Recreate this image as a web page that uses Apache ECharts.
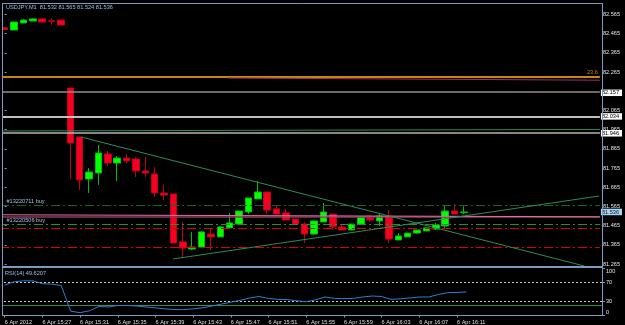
<!DOCTYPE html>
<html><head><meta charset="utf-8">
<script src="https://cdn.jsdelivr.net/npm/echarts@6/dist/echarts.min.js"></script>
<style>html,body{margin:0;padding:0;background:#000;}#c{width:625px;height:325px;}</style>
</head><body><div id="c"></div>
<script>
// ---- data ----
const minutes = ['15:23','15:24','15:25','15:26','15:27','15:28','15:29','15:30','15:31','15:32',
  '15:33','15:34','15:35','15:36','15:37','15:38','15:39','15:40','15:41','15:42',
  '15:43','15:44','15:45','15:46','15:47','15:48','15:49','15:50','15:51','15:52',
  '15:53','15:54','15:55','15:56','15:57','15:58','15:59','16:00','16:01','16:02',
  '16:03','16:04','16:05','16:06','16:07','16:08','16:09','16:10','16:11','16:12'];
const open  = [82.496,82.484,82.521,82.531,82.542,82.532,82.536,82.182,81.927,81.708,
  81.739,81.838,81.791,81.817,81.812,81.750,81.734,81.635,81.630,81.380,
  81.343,81.353,81.421,81.406,81.453,81.473,81.536,81.604,81.640,81.552,
  81.531,81.499,81.473,81.421,81.484,81.525,81.458,81.442,81.473,81.505,
  81.489,81.515,81.390,81.406,81.426,81.437,81.447,81.463,81.541,81.532];
const close = [82.486,82.526,82.536,82.542,82.526,82.530,82.510,81.895,81.703,81.744,
  81.843,81.791,81.817,81.802,81.750,81.739,81.635,81.624,81.374,81.348,
  81.353,81.432,81.406,81.458,81.479,81.541,81.609,81.640,81.546,81.525,
  81.494,81.473,81.421,81.489,81.536,81.458,81.442,81.473,81.510,81.494,
  81.515,81.395,81.411,81.426,81.442,81.453,81.468,81.541,81.525,81.536];
const low   = [82.484,82.483,82.521,82.531,82.521,82.510,82.510,81.708,81.651,81.635,
  81.677,81.776,81.697,81.791,81.718,81.718,81.614,81.598,81.372,81.296,
  81.338,81.353,81.338,81.406,81.447,81.470,81.525,81.604,81.525,81.525,
  81.494,81.473,81.374,81.416,81.484,81.442,81.442,81.442,81.473,81.484,
  81.463,81.374,81.390,81.406,81.421,81.437,81.442,81.453,81.525,81.524];
const high  = [82.499,82.527,82.542,82.547,82.542,82.547,82.536,82.182,81.927,81.765,
  81.885,81.854,81.828,81.838,81.822,81.822,81.770,81.677,81.630,81.484,
  81.432,81.437,81.447,81.458,81.531,81.541,81.609,81.697,81.640,81.567,
  81.552,81.499,81.484,81.489,81.583,81.525,81.468,81.473,81.510,81.520,
  81.531,81.546,81.426,81.426,81.442,81.453,81.479,81.572,81.578,81.565];
const rsi = [64,71,73,73,67,66,63,9,6,10,
  19,18,21,21,20,18,16,14,12.5,12.5,
  14,16,20,24,28,32,37,40,36,34,
  33.5,31,29,33,39,36,35.5,36,39,41,
  40,34,35,37,39,39,44,48,48.5,49.62];
const timeLabels = ['6 Apr 2012','6 Apr 15:27','6 Apr 15:31','6 Apr 15:35','6 Apr 15:39','6 Apr 15:43',
  '6 Apr 15:47','6 Apr 15:51','6 Apr 15:55','6 Apr 15:59','6 Apr 16:03','6 Apr 16:07','6 Apr 16:11'];
const priceTicks = [82.565,82.465,82.365,82.265,82.065,81.965,81.865,81.765,81.665,81.565,81.465,81.365,81.265];
const markedPrices = [82.157,82.034,81.946];
const lastPrice = [81.536];
const rsiTicks = [70,30];
const chartTitle = 'USDJPY,M1  81.532 81.565 81.524 81.536';
const rsiTitle = 'RSI(14) 49.6207';
const fibLevel = 82.2367, fibLabel = '23.6';
const greyLevels = [82.157, 81.946];
const whiteLevel = 82.034;
const mauveLevel = 81.5139;
const orderLevels = [81.570, 81.472];
const orderLabels = ['#13220711 buy', '#13220506 buy'];
const stopLevels = [81.454, 81.3467];
const trendDown = [[8.14, 81.9266], [61.84, 81.2544]];
const trendUp = [[17.97, 81.291], [63.42, 81.6192]];
const trendFlat = [[-0.5, 81.958], [63.5, 81.966]];
const trendPurple = [[23.78, 82.2341], [63.5, 82.2226]];
const trendPink = [[-0.5, 81.5213], [63.5, 81.5108]];
const rsiGreenLevel = 21.5;

// ---- layout ----
const SLOTS = 64;
const cats = minutes.concat(Array.from({length: SLOTS - minutes.length}, (_, i) => 'x' + i));
const yMin = 81.2518, yMax = 82.6197;
const FONT = 'Liberation Sans';
const FS = 5.6;
const frame = '#7b9cc0';
const gridL = -1.7, gridW = 604.7;

const showIdx = (i) => i % 4 === 0 && i / 4 < timeLabels.length;

const chart = echarts.init(document.getElementById('c'), null, {renderer: 'canvas'});
chart.setOption({
  backgroundColor: '#000',
  animation: false,
  textStyle: {fontFamily: FONT},
  title: [
    {text: chartTitle, left: 6, top: 4.6, padding: 0,
     textStyle: {color: '#9cc0e4', fontSize: FS, fontWeight: 'normal', fontFamily: FONT}},
    {text: rsiTitle, left: 5, top: 270.3, padding: 0,
     textStyle: {color: '#9cc0e4', fontSize: FS, fontWeight: 'normal', fontFamily: FONT}}
  ],
  grid: [
    {left: gridL, top: 4, width: gridW, height: 262.5},
    {left: gridL, top: 268, width: gridW, height: 47.5}
  ],
  xAxis: [
    {type: 'category', gridIndex: 0, data: cats, boundaryGap: true, show: false},
    {type: 'value', gridIndex: 0, min: -0.5, max: SLOTS - 0.5, show: false},
    {type: 'category', gridIndex: 1, data: cats, boundaryGap: true, position: 'bottom',
     axisLine: {show: false, onZero: false},
     axisTick: {show: true, alignWithLabel: true, interval: showIdx, length: 2, lineStyle: {color: frame}},
     axisLabel: {interval: showIdx, formatter: (v, i) => timeLabels[i / 4] || '', align: 'left',
       color: '#d8dee6', fontSize: FS, fontFamily: FONT, margin: 3.5},
     splitLine: {show: false}}
  ],
  yAxis: [
    {type: 'value', gridIndex: 0, position: 'right', min: yMin, max: yMax,
     axisLine: {show: false}, splitLine: {show: false},
     axisTick: {show: true, customValues: priceTicks, length: 2, lineStyle: {color: frame}},
     axisLabel: {customValues: priceTicks, formatter: v => v.toFixed(3), color: '#dfe6ee',
       fontSize: FS, fontFamily: FONT, margin: 3}},
    {type: 'value', gridIndex: 0, position: 'right', min: yMin, max: yMax,
     axisLine: {show: false}, splitLine: {show: false}, axisTick: {show: false},
     axisLabel: {customValues: markedPrices, formatter: v => v.toFixed(3), color: '#000',
       backgroundColor: '#ffffff', padding: [0.5, 3, 0, 1], fontSize: FS, fontFamily: FONT, margin: 1}},
    {type: 'value', gridIndex: 0, position: 'right', min: yMin, max: yMax,
     axisLine: {show: false}, splitLine: {show: false}, axisTick: {show: false},
     axisLabel: {customValues: lastPrice, formatter: v => v.toFixed(3), color: '#0a1a2a',
       backgroundColor: '#a6d2f2', padding: [0.5, 3, 0, 1], fontSize: FS, fontFamily: FONT, margin: 1}},
    {type: 'value', gridIndex: 1, position: 'right', min: 0, max: 100,
     axisLine: {show: false}, splitLine: {show: false},
     axisTick: {show: true, customValues: [100, 70, 30, 0], length: 2, lineStyle: {color: frame}},
     axisLabel: {customValues: rsiTicks, color: '#dfe6ee', fontSize: FS, fontFamily: FONT, margin: 3}},
    {type: 'value', gridIndex: 1, position: 'right', min: 0, max: 100,
     axisLine: {show: false}, splitLine: {show: false}, axisTick: {show: false},
     axisLabel: {customValues: [100], verticalAlign: 'top', color: '#dfe6ee', fontSize: FS, fontFamily: FONT, margin: 3}},
    {type: 'value', gridIndex: 1, position: 'right', min: 0, max: 100,
     axisLine: {show: false}, splitLine: {show: false}, axisTick: {show: false},
     axisLabel: {customValues: [0], verticalAlign: 'bottom', color: '#dfe6ee', fontSize: FS, fontFamily: FONT, margin: 3}}
  ],
  series: [
    {type: 'candlestick', xAxisIndex: 0, yAxisIndex: 0, z: 2, barWidth: 7,
     data: open.map((o, i) => [o, close[i], low[i], high[i]]),
     itemStyle: {color: '#00ff00', color0: '#f5001f', borderColor: '#00c000', borderColor0: '#c0001a', borderWidth: 1}},
    {type: 'line', xAxisIndex: 1, yAxisIndex: 0, z: 5, silent: true, symbol: 'none',
     data: trendFlat, lineStyle: {color: '#2e8b57', width: 1},
     markLine: {symbol: 'none', silent: true, animation: false, label: {show: false},
       data: [
         {yAxis: fibLevel, lineStyle: {color: '#c8860b', width: 2, type: 'solid'},
          label: {show: true, position: 'insideEndTop', formatter: fibLabel, color: '#c8860b',
            fontSize: FS, fontFamily: FONT, distance: [2, 1]}},
         {yAxis: greyLevels[0], lineStyle: {color: '#8e8e8e', width: 1.5, type: 'solid'}},
         {yAxis: whiteLevel, lineStyle: {color: '#ffffff', width: 1.5, type: 'solid'}},
         {yAxis: greyLevels[1], lineStyle: {color: '#b4b4b4', width: 1.5, type: 'solid'}},
         {yAxis: mauveLevel, lineStyle: {color: '#8a3a5a', width: 1.5, type: 'solid'}},
         {yAxis: orderLevels[0], lineStyle: {color: '#1c641c', width: 1, type: [9, 3, 2, 3]},
          label: {show: true, position: 'insideStartTop', formatter: orderLabels[0], color: '#9cc0e4',
            fontSize: FS, fontFamily: FONT, distance: [6.5, 1]}},
         {yAxis: orderLevels[1], lineStyle: {color: '#2a8c2a', width: 1, type: [9, 3, 2, 3]},
          label: {show: true, position: 'insideStartTop', formatter: orderLabels[1], color: '#9cc0e4',
            fontSize: FS, fontFamily: FONT, distance: [6.5, 1]}},
         {yAxis: stopLevels[0], lineStyle: {color: '#e00000', width: 1, type: [9, 3, 2, 3]}},
         {yAxis: stopLevels[1], lineStyle: {color: '#e00000', width: 1, type: [9, 3, 2, 3]}}
       ]}},
    {type: 'line', xAxisIndex: 1, yAxisIndex: 0, z: 6, silent: true, symbol: 'none',
     data: trendPurple, lineStyle: {color: '#a03070', width: 1}},
    {type: 'line', xAxisIndex: 1, yAxisIndex: 0, z: 6, silent: true, symbol: 'none',
     data: trendPink, lineStyle: {color: '#e070a0', width: 1}},
    {type: 'line', xAxisIndex: 1, yAxisIndex: 0, z: 6, silent: true, symbol: 'none',
     data: trendDown, lineStyle: {color: '#2e8b57', width: 1}},
    {type: 'line', xAxisIndex: 1, yAxisIndex: 0, z: 6, silent: true, symbol: 'none',
     data: trendUp, lineStyle: {color: '#2e8b57', width: 1}},
    {type: 'line', xAxisIndex: 2, yAxisIndex: 3, z: 3, silent: true, symbol: 'none', data: [],
     markLine: {symbol: 'none', silent: true, animation: false, label: {show: false},
       data: [
         {yAxis: rsiTicks[0], lineStyle: {color: '#c8c8c8', width: 1, type: [2, 2]}},
         {yAxis: rsiTicks[1], lineStyle: {color: '#c8c8c8', width: 1, type: [2, 2]}},
         {yAxis: rsiGreenLevel, lineStyle: {color: '#2e8b57', width: 1, type: 'solid'}}
       ]}},
    {type: 'line', xAxisIndex: 2, yAxisIndex: 3, z: 5, silent: true, symbol: 'none',
     data: rsi, lineStyle: {color: '#2b80d4', width: 1}}
  ],
  graphic: [
    {type: 'rect', silent: true, z: 100, shape: {x: 0, y: 0, width: 2, height: 325}, style: {fill: '#000'}},
    {type: 'line', silent: true, z: 101, shape: {x1: 2.5, y1: 3, x2: 2.5, y2: 316}, style: {stroke: frame, lineWidth: 1}},
    {type: 'line', silent: true, z: 101, shape: {x1: 2, y1: 3.5, x2: 603, y2: 3.5}, style: {stroke: frame, lineWidth: 1}},
    {type: 'rect', silent: true, z: 101, shape: {x: 2, y: 266, width: 601, height: 2}, style: {fill: frame}},
    {type: 'line', silent: true, z: 101, shape: {x1: 2, y1: 315.5, x2: 603, y2: 315.5}, style: {stroke: frame, lineWidth: 1}},
    {type: 'line', silent: true, z: 101, shape: {x1: 602.5, y1: 3, x2: 602.5, y2: 316}, style: {stroke: frame, lineWidth: 1}}
  ]
});
</script>
</body></html>
